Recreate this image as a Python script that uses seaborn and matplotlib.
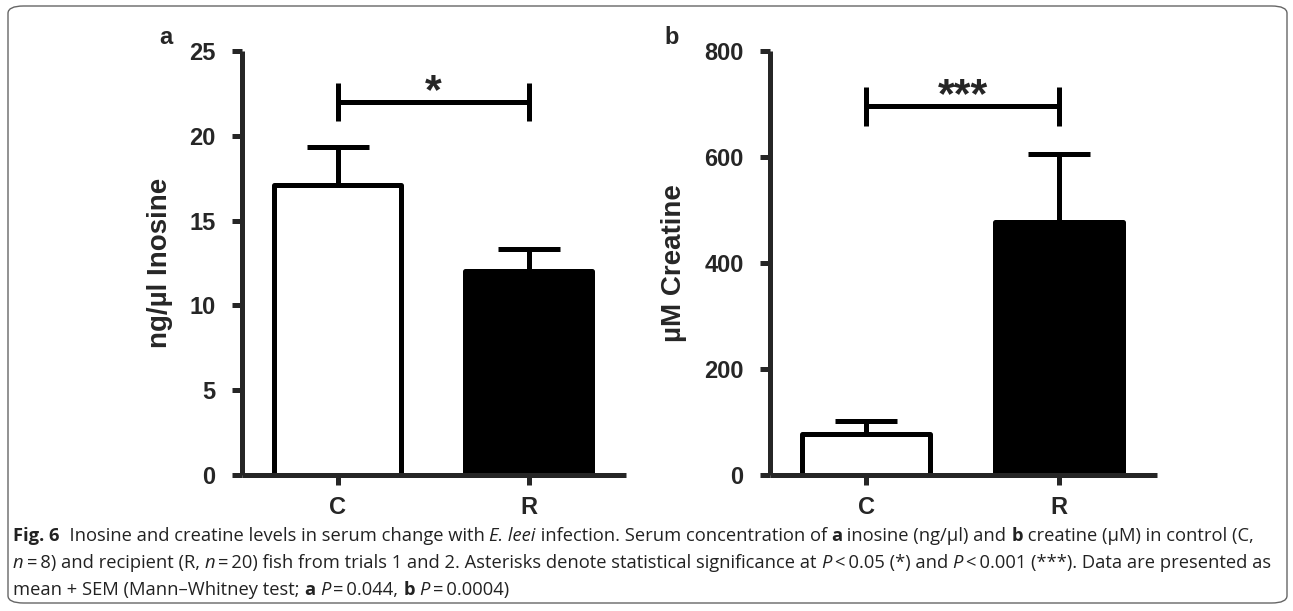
import matplotlib
matplotlib.use("Agg")
import matplotlib.pyplot as plt
import seaborn as sns
import pandas as pd
from matplotlib.patches import FancyBboxPatch

# ---------------- data ----------------
groups = ["C", "R"]
inosine_mean = [17.1, 12.0]
inosine_sem = [2.25, 1.3]
creatine_mean = [78, 477]
creatine_sem = [23, 128]
sig_a = ("*", 22.0, 1.14)      # label, bracket y, cap half-height
sig_b = ("***", 696.0, 36.6)
ylabel_a = "ng/\u00b5l Inosine"
ylabel_b = "\u00b5M Creatine"
yticks_a = [0, 5, 10, 15, 20, 25]
yticks_b = [0, 200, 400, 600, 800]

sns.set_theme(style="ticks")
plt.rcParams["font.family"] = ["Liberation Sans", "DejaVu Sans"]

W, H = 1293, 611
fig = plt.figure(figsize=(W / 100, H / 100), dpi=100)

# outer rounded frame
frame = FancyBboxPatch((8 / W, 8 / H), (W - 14) / W, (H - 14) / H,
                       boxstyle="round,pad=0,rounding_size=0.012",
                       transform=fig.transFigure, fill=False,
                       edgecolor="#666666", linewidth=1.0)
fig.patches.append(frame)

LW = 3.6


def panel(rect, means, sems, ylim, yticks, ylabel, sig, letter, letter_xy):
    ax = fig.add_axes(rect)
    df = pd.DataFrame({"group": groups, "value": means})
    sns.barplot(data=df, x="group", y="value", hue="group",
                palette=["white", "black"], edgecolor="black",
                linewidth=LW, width=0.665, errorbar=None, legend=False,
                ax=ax, saturation=1)
    for p in ax.patches:
        p.set_joinstyle("round")
    ax.errorbar([0, 1], means, yerr=[[0, 0], sems], fmt="none",
                ecolor="black", elinewidth=LW, capsize=22.5, capthick=LW,
                zorder=1)
    # significance bracket
    lab, yb, hh = sig
    kw = dict(color="black", lw=LW, solid_capstyle="butt", clip_on=False)
    ax.plot([0, 1], [yb, yb], **kw)
    ax.plot([0, 0], [yb - hh, yb + hh], **kw)
    ax.plot([1, 1], [yb - hh, yb + hh], **kw)
    ax.annotate(lab, xy=(0.5, yb), xytext=(0, -1), textcoords="offset points",
                ha="center", va="baseline", fontsize=31, fontweight="bold")
    ax.set_xlim(-0.5, 1.51)
    ax.set_ylim(*ylim)
    ax.set_yticks(yticks)
    ax.set_xlabel("")
    ax.set_ylabel(ylabel, fontsize=20, fontweight="bold", labelpad=12)
    for s in ["top", "right"]:
        ax.spines[s].set_visible(False)
    for s in ["left", "bottom"]:
        ax.spines[s].set_linewidth(LW)
        ax.spines[s].set_capstyle("butt")
    ax.tick_params(axis="both", width=LW, length=7, labelsize=17,
                   direction="out")
    ax.tick_params(axis="y", pad=12)
    ax.tick_params(axis="x", pad=8)
    for t in ax.get_xticklabels() + ax.get_yticklabels():
        t.set_fontweight("bold")
    ax.set_facecolor("none")
    fig.text(letter_xy[0] / W, 1 - letter_xy[1] / H, letter, fontsize=17,
             fontweight="bold", ha="center", va="center")
    return ax


bottom = (H - 475) / H
height = (475 - 51) / H
panel([242 / W, bottom, 384 / W, height], inosine_mean, inosine_sem,
      (0, 25), yticks_a, ylabel_a, sig_a, "a", (166, 38))
panel([770 / W, bottom, 387 / W, height], creatine_mean, creatine_sem,
      (0, 800), yticks_b, ylabel_b, sig_b, "b", (672, 38))

# ---------------- caption ----------------
cap_font = ["Open Sans", "DejaVu Sans"]
lines = [
    [("Fig. 6", "bold", "normal"),
     ("  Inosine and creatine levels in serum change with ", "normal", "normal"),
     ("E. leei", "normal", "italic"),
     (" infection. Serum concentration of ", "normal", "normal"),
     ("a", "bold", "normal"), (" inosine (ng/\u00b5l) and ", "normal", "normal"),
     ("b", "bold", "normal"), (" creatine (\u00b5M) in control (C,", "normal", "normal")],
    [("n", "normal", "italic"), ("\u2009=\u20098) and recipient (R, ", "normal", "normal"),
     ("n", "normal", "italic"),
     ("\u2009=\u200920) fish from trials 1 and 2. Asterisks denote statistical significance at ", "normal", "normal"),
     ("P", "normal", "italic"), ("\u2009<\u20090.05 (*) and ", "normal", "normal"),
     ("P", "normal", "italic"), ("\u2009<\u20090.001 (***). Data are presented as", "normal", "normal")],
    [("mean + SEM (Mann\u2013Whitney test; ", "normal", "normal"),
     ("a", "bold", "normal"), (" ", "normal", "normal"),
     ("P", "normal", "italic"), ("\u2009=\u20090.044, ", "normal", "normal"),
     ("b", "bold", "normal"), (" ", "normal", "normal"),
     ("P", "normal", "italic"), ("\u2009=\u20090.0004)", "normal", "normal")],
]
line_y = [536, 563, 590]
renderer = fig.canvas.get_renderer()

# measure lines at a base size, then scale so the widest fits inside the frame
base = 10.0
widest = 0.0
for pieces in lines:
    wsum = 0.0
    for txt, wt, st in pieces:
        t = fig.text(0, 0, txt, fontsize=base, fontweight=wt, fontstyle=st,
                     family=cap_font)
        wsum += t.get_window_extent(renderer=renderer).width
        t.remove()
    widest = max(widest, wsum)
cap_size = min(base * (1258.0 / widest), 14.0)

for pieces, ly in zip(lines, line_y):
    x = 13
    for txt, wt, st in pieces:
        t = fig.text(x / W, 1 - ly / H, txt, fontsize=cap_size, fontweight=wt,
                     fontstyle=st, family=cap_font, ha="left", va="center",
                     color="#222222")
        bb = t.get_window_extent(renderer=renderer)
        x += bb.width

fig.savefig("out.png", dpi=100)
